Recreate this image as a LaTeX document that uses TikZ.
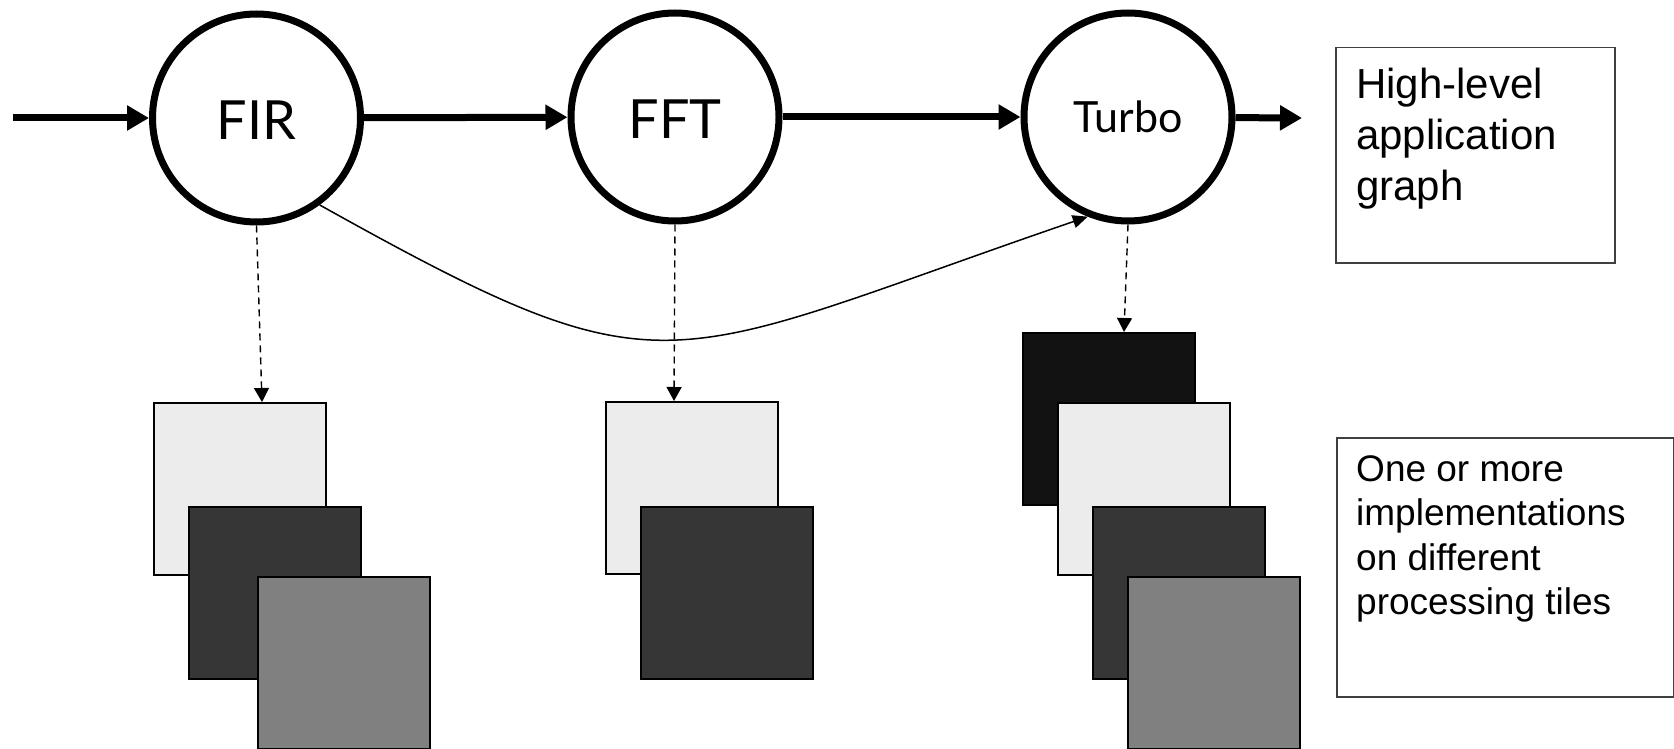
\documentclass[tikz,border=0pt]{standalone}
\usepackage{fontspec}
\usetikzlibrary{arrows.meta}
\newfontfamily\nodefont{Lato}
\newfontfamily\arialfont{Liberation Sans}
\definecolor{tilelight}{HTML}{ECECEC}
\definecolor{tiledark}{HTML}{363636}
\definecolor{tilegray}{HTML}{808080}
\definecolor{tileblack}{HTML}{121212}
\tikzset{
  actor/.style={circle, draw, line width=7pt, minimum size=208pt, inner sep=0pt, font=\nodefont\fontsize{54}{60}\selectfont},
  flow/.style={line width=7pt, -{Triangle[length=22pt,width=24pt]}},
  mapto/.style={line width=1.4pt, dash pattern=on 7pt off 5pt, -{Triangle[length=14pt,width=15pt]}},
  tile/.style={rectangle, draw, line width=2pt, minimum size=172pt, inner sep=0pt, anchor=north west},
  notebox/.style={rectangle, draw=black!75, line width=1.5pt, anchor=north west, inner sep=0pt},
  notetext/.style={anchor=north west, inner sep=0pt, align=left}
}
\begin{document}
\begin{tikzpicture}[x=1pt, y=-1pt]
\useasboundingbox (0,0) rectangle (1674,749);

% actors of the application graph
\node[actor, text height=44pt, text depth=0pt] (fir) at (256.5,118) {FIR};
\node[actor, text height=44pt, text depth=0pt] (fft) at (675,117) {FFT};
\node[actor, font=\nodefont\fontsize{43}{50}\selectfont] (turbo) at (1128,117) {Turbo};

\coordinate (src) at (13,118);
\coordinate (snk) at (1302,118);

\draw[flow] (src) -- (fir);
\draw[flow] (fir) -- (fft);
\draw[flow] (fft) -- (turbo);
\draw[flow] (turbo) -- (snk);

% bypass edge from FIR to Turbo
\draw[line width=1.5pt, -{Triangle[length=15pt,width=13pt]}]
  (fir.-54) .. controls (671,401) and (658,364) .. (turbo.-112);

% implementation tiles for FIR
\node[tile, fill=tilelight] (firA) at (153,402) {};
\node[tile, fill=tiledark]  (firB) at (188,506) {};
\node[tile, fill=tilegray]  (firC) at (257,576) {};

% implementation tiles for FFT
\node[tile, fill=tilelight] (fftA) at (605,401) {};
\node[tile, fill=tiledark]  (fftB) at (640,506) {};

% implementation tiles for Turbo
\node[tile, fill=tileblack] (turA) at (1022,332) {};
\node[tile, fill=tilelight] (turB) at (1057,402) {};
\node[tile, fill=tiledark]  (turC) at (1092,506) {};
\node[tile, fill=tilegray]  (turD) at (1127,576) {};

% mapping arrows from actors to their tiles
\coordinate (firIn) at (262,402);
\coordinate (fftIn) at (674,401);
\coordinate (turIn) at (1124,332);
\draw[mapto] (fir.south) -- (firIn);
\draw[mapto] (fft.south) -- (fftIn);
\draw[mapto] (turbo.south) -- (turIn);

% annotation boxes
\node[notebox, minimum width=279pt, minimum height=215pt] (appbox) at (1335,47) {};
\node[notetext, font=\arialfont\fontsize{42}{51}\selectfont] (apptext) at (1356,68)
  {High-level\\application\\graph};

\node[notebox, minimum width=337pt, minimum height=259pt] (implbox) at (1336,437) {};
\node[notetext, font=\arialfont\fontsize{37}{44.5}\selectfont] (impltext) at (1356,455)
  {One or more\\implementations\\on different\\processing tiles};
\end{tikzpicture}
\end{document}
